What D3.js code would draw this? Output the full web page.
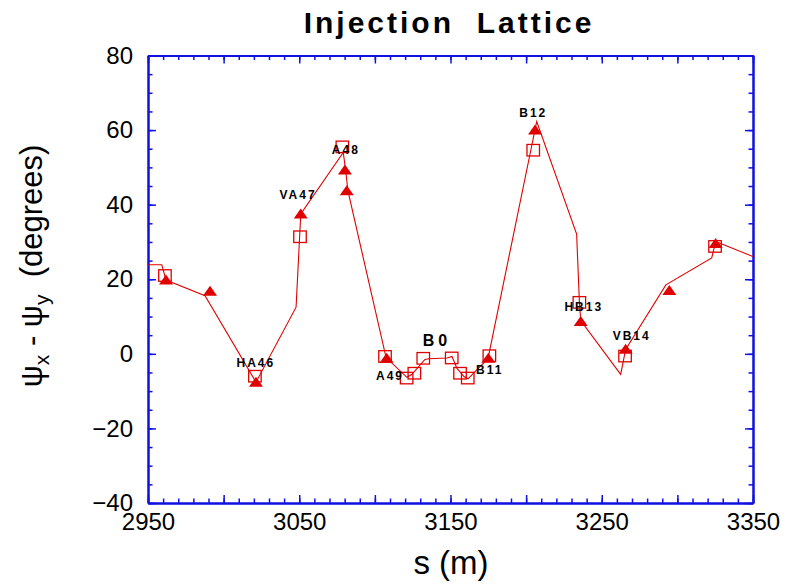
<!DOCTYPE html>
<html>
<head>
<meta charset="utf-8">
<script src="https://cdn.jsdelivr.net/npm/d3@7"></script>
<style>
  html, body { margin: 0; padding: 0; background: #fff; }
  svg { display: block; font-family: "Liberation Sans", Arial, sans-serif; }
</style>
</head>
<body>
<svg id="chart" width="787" height="584"></svg>
<script>
// Phase advance difference along the injection lattice
const lineS = [2950, 2959.1, 2961.9, 2987.7, 3021.4, 3047.9, 3051.0, 3079.1, 3080.7, 3082.2,
               3107.4, 3121.2, 3124.5, 3133.1, 3135.7, 3147.7, 3151.0, 3154.3, 3158.9, 3161.6,
               3166.9, 3174.8, 3207.0, 3233.4, 3235.2, 3236.1, 3262.5, 3265.8, 3292.4, 3322.7,
               3325.3, 3350];
const lineV = [23.9, 23.9, 19.8, 15.6, -7.6, 12.5, 37.5, 54.0, 49.1, 43.7,
               -1.0, -6.3, -5.5, -1.5, -1.3, -1.1, -0.7, -3.9, -6.1, -6.7,
               -4.5, -1.3, 62.3, 32.1, 14.0, 8.9, -5.5, 1.2, 18.5, 25.7,
               30.1, 26.1];

const triS = [2961.9, 2991.0, 3021.4, 3051.0, 3080.2, 3081.4, 3107.8, 3175.0, 3205.9, 3236.1, 3265.8, 3294.7, 3325.3];
const triV = [19.8, 16.8, -7.6, 37.5, 49.3, 43.7, -1.2, -1.2, 60.0, 8.7, 1.2, 17.0, 29.6];

const sqS = [2961.2, 3020.7, 3050.5, 3078.5, 3106.7, 3121.0, 3126.1, 3132.0, 3150.8, 3156.3, 3161.4, 3175.7, 3204.7, 3235.2, 3265.4, 3324.9];
const sqV = [21.0, -6.0, 31.4, 55.5, -0.7, -6.5, -5.2, -1.2, -1.1, -5.2, -6.5, -0.5, 54.6, 13.8, -0.6, 28.8];

// Element names and where they are written (data units, text baseline centre)
const labelText = ["VA47", "A48", "HA46", "A49", "B0", "B11", "B12", "HB13", "VB14"];
const labelS    = [3049.2, 3080.8, 3021.3, 3110.0, 3141.1, 3175.9, 3204.7, 3238.1, 3269.8];
const labelV    = [41.6, 53.7, -3.4, -7.1, 2.2, -5.5, 63.5, 11.6, 3.6];
const labelBig  = ["B0"];

const xTicks = [2950, 3050, 3150, 3250, 3350];
const yTicks = [-40, -20, 0, 20, 40, 60, 80];

const red = "#e00000";
const blue = "#1010e0";

const svg = d3.select("#chart");
const plotL = 148, plotR = 753, plotT = 55.5, plotB = 503;

const x = d3.scaleLinear().domain([2950, 3350]).range([plotL, plotR]);
const y = d3.scaleLinear().domain([-40, 80]).range([plotB, plotT]);

const xMinor = d3.range(2950, 3350.1, 10);
const xMajor = d3.range(2950, 3350.1, 50);
const yMinor = d3.range(-40, 80.1, 5);
const yMajor = d3.range(-40, 80.1, 20);

// Title
svg.append("text")
  .attr("x", 449).attr("y", 33)
  .attr("text-anchor", "middle")
  .attr("font-size", 30).attr("font-weight", "bold")
  .attr("letter-spacing", 3)
  .attr("xml:space", "preserve")
  .text("Injection  Lattice");

// Axes: inward ticks on all four sides
function styleAxis(g) {
  g.selectAll("path.domain").attr("stroke", blue).attr("stroke-width", 2);
  g.selectAll(".tick line").attr("stroke", blue).attr("stroke-width", 1.5);
}

function addAxis(gen, tx, ty) {
  return svg.append("g").attr("transform", `translate(${tx},${ty})`).call(gen).call(styleAxis);
}

// minor ticks
addAxis(d3.axisBottom(x).tickValues(xMinor).tickSizeInner(-4.5).tickSizeOuter(0).tickFormat(""), 0, plotB);
addAxis(d3.axisTop(x).tickValues(xMinor).tickSizeInner(-4.5).tickSizeOuter(0).tickFormat(""), 0, plotT);
addAxis(d3.axisLeft(y).tickValues(yMinor).tickSizeInner(-4.5).tickSizeOuter(0).tickFormat(""), plotL, 0);
addAxis(d3.axisRight(y).tickValues(yMinor).tickSizeInner(-4.5).tickSizeOuter(0).tickFormat(""), plotR, 0);
// major ticks
addAxis(d3.axisTop(x).tickValues(xMajor).tickSizeInner(-8).tickSizeOuter(0).tickFormat(""), 0, plotT);
addAxis(d3.axisRight(y).tickValues(yMajor).tickSizeInner(-8).tickSizeOuter(0).tickFormat(""), plotR, 0);

const gx = addAxis(d3.axisBottom(x).tickValues(xMajor).tickSizeInner(-8).tickSizeOuter(0).tickPadding(10)
  .tickFormat(d => xTicks.includes(d) ? d3.format("d")(d) : ""), 0, plotB);
gx.selectAll("text").attr("font-size", 24).attr("fill", "#000")
  .attr("font-family", "'Liberation Sans', Arial, sans-serif");

const gy = addAxis(d3.axisLeft(y).tickValues(yMajor).tickSizeInner(-8).tickSizeOuter(0).tickPadding(15)
  .tickFormat(d => yTicks.includes(d) ? d3.format("d")(d) : ""), plotL, 0);
gy.selectAll("text").attr("font-size", 24).attr("fill", "#000")
  .attr("font-family", "'Liberation Sans', Arial, sans-serif");

// Axis titles
svg.append("text")
  .attr("x", 451).attr("y", 574)
  .attr("text-anchor", "middle")
  .attr("font-size", 33)
  .text("s (m)");

const yt = svg.append("text")
  .attr("transform", "translate(42,266) rotate(-90)")
  .attr("text-anchor", "middle")
  .attr("font-size", 31)
  .attr("xml:space", "preserve");
yt.append("tspan").text("ψ");
yt.append("tspan").attr("font-size", 21).attr("dy", 7).text("x");
yt.append("tspan").attr("dy", -7).text(" - ψ");
yt.append("tspan").attr("font-size", 21).attr("dy", 7).text("y");
yt.append("tspan").attr("dy", -7).text("  (degrees)");

// Plot clip
svg.append("clipPath").attr("id", "plotclip")
  .append("rect").attr("x", plotL).attr("y", plotT).attr("width", plotR - plotL).attr("height", plotB - plotT);

// Lattice line
const linePts = lineS.map((s, i) => [s, lineV[i]]);
svg.append("path")
  .attr("clip-path", "url(#plotclip)")
  .attr("d", d3.line().x(d => x(d[0])).y(d => y(d[1]))(linePts))
  .attr("fill", "none").attr("stroke", red).attr("stroke-width", 1.1);

// Open squares
const sqPts = sqS.map((s, i) => [s, sqV[i]]);
svg.append("g").selectAll("rect").data(sqPts).join("rect")
  .attr("x", d => x(d[0]) - 6.25).attr("y", d => y(d[1]) - 5.75)
  .attr("width", 12.5).attr("height", 11.5)
  .attr("fill", "none").attr("stroke", red).attr("stroke-width", 1.3);

// Filled triangles
const triPts = triS.map((s, i) => [s, triV[i]]);
const triPath = "M0,-5.5L7,4.5L-7,4.5Z";
svg.append("g").selectAll("path").data(triPts).join("path")
  .attr("transform", d => `translate(${x(d[0])},${y(d[1])})`)
  .attr("d", triPath)
  .attr("fill", red);

// Element labels
svg.append("g").selectAll("text").data(labelText).join("text")
  .attr("x", (d, i) => x(labelS[i]))
  .attr("y", (d, i) => y(labelV[i]))
  .attr("text-anchor", "middle")
  .attr("font-weight", "bold")
  .attr("font-size", d => labelBig.includes(d) ? 16 : 12)
  .attr("letter-spacing", d => labelBig.includes(d) ? 4 : 2)
  .text(d => d);
</script>
</body>
</html>
